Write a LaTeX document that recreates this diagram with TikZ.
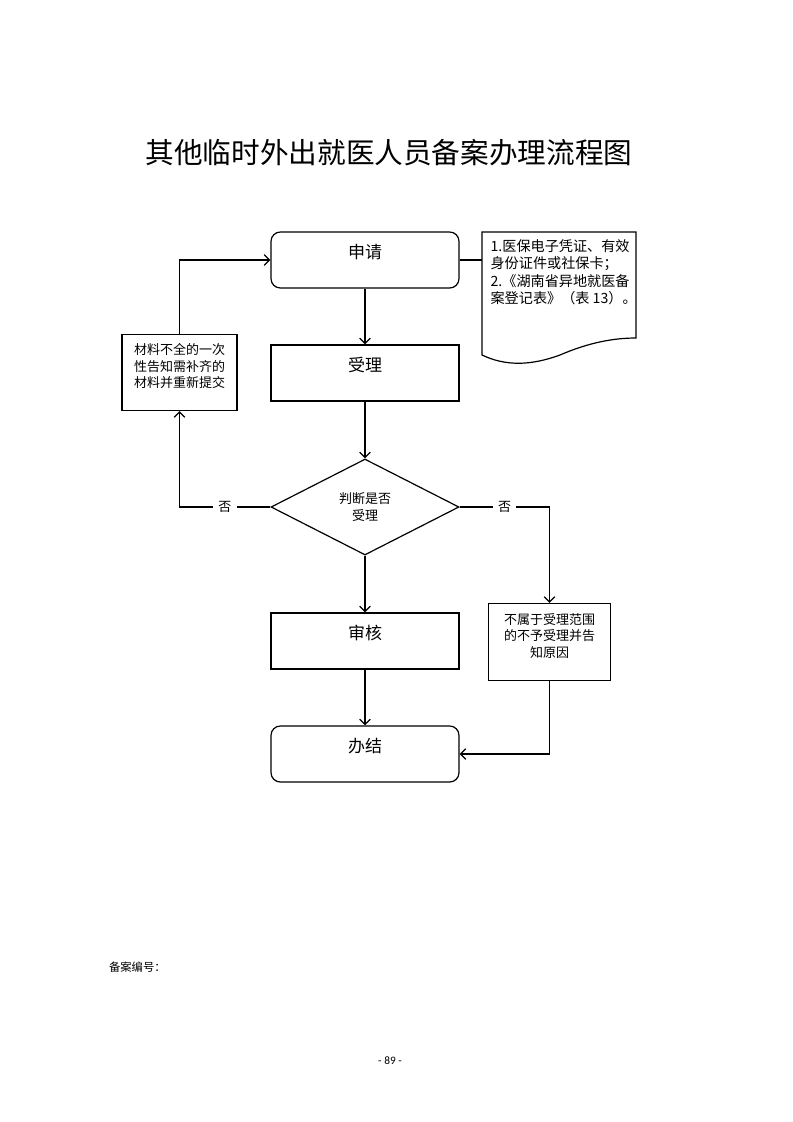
\documentclass[tikz,border=0pt]{standalone}
\usepackage{fontspec}
\setmainfont{Noto Sans CJK SC}
\newfontfamily\pagefont{Carlito}
\usetikzlibrary{shapes.geometric,arrows.meta}

\begin{document}
\begin{tikzpicture}[x=0.75pt,y=-0.75pt,line width=0.9pt,
  bigbox/.style={draw,minimum width=141pt,minimum height=42pt,inner sep=0pt,
    font=\fontsize{12.75}{15}\selectfont,text height=11pt,text depth=14pt},
  roundbox/.style={bigbox,rounded corners=7pt},
  smallbox/.style={draw,align=center,inner sep=0pt,font=\fontsize{9.75}{12.4}\selectfont},
  arr/.style={-{Straight Barb[length=4pt,width=8pt]}},
  fou/.style={fill=white,inner sep=4pt,font=\fontsize{9.75}{12}\selectfont}]
\useasboundingbox (0,0) rectangle (793,1122);

% title
\node (biaoti) at (389,153) {\fontsize{21.5}{24}\selectfont 其他临时外出就医人员备案办理流程图};

% main column
\node[roundbox] (shenqing) at (365,260) {申请};
\node[bigbox] (shouli) at (365,373) {受理};
\node[draw,diamond,minimum width=141pt,minimum height=72pt,inner sep=0pt,align=center,
  font=\fontsize{9.75}{12.6}\selectfont] (panduan) at (365,507) {判断是否\\受理};
\node[bigbox] (shenhe) at (365,641) {审核};
\node[roundbox] (banjie) at (365,754) {办结};

% side boxes
\node[smallbox,minimum width=86.25pt,minimum height=57pt] (buquan) at (179.5,372.5)
  {材料不全的一次\\性告知需补齐的\\材料并重新提交\\[-2pt]};
\node[smallbox,minimum width=91.5pt,minimum height=57.75pt] (buyu) at (549.5,642)
  {不属于受理范围\\的不予受理并告\\知原因\\[-2pt]};

% document
\draw (482,232) -- (636,232) -- (636,338)
  .. controls (615,338) and (590,342) .. (560,355)
  .. controls (530,366) and (505,366) .. (482,355) -- cycle;
\node[anchor=north west,align=left,inner sep=0pt,font=\fontsize{10.6}{13.1}\selectfont]
  (cailiao) at (490,239) {1.医保电子凭证、有效\\身份证件或社保卡；\\2.《湖南省异地就医备\\案登记表》（表 13）。};
\coordinate (docin) at (482,260);

% connectors
\draw (shenqing.east) -- (docin);
\draw[arr] (shenqing) -- (shouli);
\draw[arr] (shouli) -- (panduan);
\draw[arr] (panduan) -- (shenhe);
\draw[arr] (shenhe) -- (banjie);
\draw[arr] (panduan.west) -- node[fou] (fouzuo) {否} (panduan.west -| buquan.south) -- (buquan.south);
\draw[arr] (buquan.north) |- (shenqing.west);
\draw[arr] (panduan.east) -- node[fou] (fouyou) {否} (panduan.east -| buyu.north) -- (buyu.north);
\draw[arr] (buyu.south) |- (banjie.east);

% footer
\node[anchor=west,font=\fontsize{8.5}{10}\selectfont] (bianhao) at (104,967) {备案编号：};
\node[font=\fontsize{8.5}{10}\selectfont] (yema) at (390,1061) {\pagefont - 89 -};
\end{tikzpicture}
\end{document}
